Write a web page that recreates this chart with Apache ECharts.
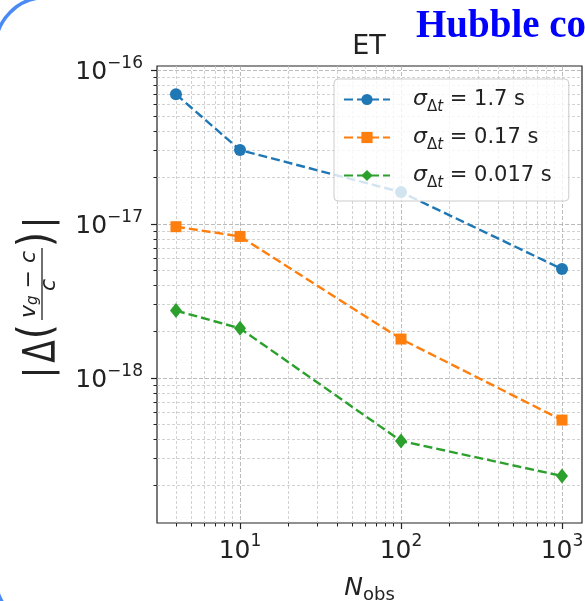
<!DOCTYPE html>
<html><head><meta charset="utf-8">
<script src="https://cdn.jsdelivr.net/npm/echarts@6/dist/echarts.min.js"></script>
<style>html,body{margin:0;padding:0;background:#fff}#c{width:585px;height:601px}</style>
</head><body><div id="c"></div>
<script>
// ---- data ----
const nObs = [4, 10, 100, 1000];
const seriesNames = ['σΔt = 1.7 s', 'σΔt = 0.17 s', 'σΔt = 0.017 s'];
const legendValues = ['1.7 s', '0.17 s', '0.017 s'];
const blueVals = [6.95e-17, 3.02e-17, 1.61e-17, 5.1e-18];
const orangeVals = [9.6e-18, 8.3e-18, 1.79e-18, 5.33e-19];
const greenVals = [2.74e-18, 2.10e-18, 3.9e-19, 2.31e-19];
const xMajorTicks = [10, 100, 1000];
const xTickExps = ['1', '2', '3'];
const yMajorTicks = [1e-18, 1e-17, 1e-16];
const yTickExps = ['−18', '−17', '−16'];
const xMinorTicks = [4, 5, 6, 7, 8, 9, 20, 30, 40, 50, 60, 70, 80, 90, 200, 300, 400, 500, 600, 700, 800, 900];
const yMinorTicks = [2e-19, 3e-19, 4e-19, 5e-19, 6e-19, 7e-19, 8e-19, 9e-19,
                     2e-18, 3e-18, 4e-18, 5e-18, 6e-18, 7e-18, 8e-18, 9e-18,
                     2e-17, 3e-17, 4e-17, 5e-17, 6e-17, 7e-17, 8e-17, 9e-17];
const xRange = [3.05, 1331];
const yRange = [1.144e-19, 1.061e-16];

// ---- styles ----
const F = 'DejaVu Sans';
const ink = '#222222';
const colors = ['#1f77b4', '#ff7f0e', '#2ca02c'];
const symbols = ['circle', 'rect', 'diamond'];
const symbolSizes = [12, 11, [12, 15]];
const allVals = [blueVals, orangeVals, greenVals];

function supFormatter(ticks, exps) {
  return function (value) {
    const i = ticks.findIndex(t => Math.abs(Math.log10(t) - Math.log10(value)) < 1e-6);
    return '{b|10}{s|' + (i >= 0 ? exps[i] : '') + '}';
  };
}
const labelRich = {
  b: { fontSize: 25, lineHeight: 28, fontFamily: F, color: ink },
  s: { fontSize: 17, lineHeight: 17, padding: [0, 0, 18, 0], fontFamily: F, color: ink }
};
const majorGrid = { show: true, lineStyle: { color: '#ababab', type: [4, 2], width: 0.8 } };
const minorGrid = { show: true, lineStyle: { color: '#c6c6c6', type: [3, 2], width: 0.8 } };

const chart = echarts.init(document.getElementById('c'), null, { renderer: 'canvas' });
const option = {
  backgroundColor: '#ffffff',
  animation: false,
  title: {
    text: 'ET', left: 369, top: 33, textAlign: 'center', padding: 0,
    textStyle: { fontSize: 27, fontWeight: 'normal', fontFamily: F, color: ink, lineHeight: 28 }
  },
  grid: {
    left: 157, right: 3, top: 66, bottom: 78,
    outerBoundsMode: 'none', containLabel: false,
    show: true, borderColor: ink, borderWidth: 1.2, backgroundColor: 'transparent'
  },
  xAxis: [
    {
      type: 'log', min: xRange[0], max: xRange[1], position: 'bottom',
      axisLine: { show: false },
      axisTick: { show: true, customValues: xMajorTicks, length: 6, lineStyle: { color: ink, width: 1.2 } },
      axisLabel: { customValues: xMajorTicks, formatter: supFormatter(xMajorTicks, xTickExps), rich: labelRich, margin: 14 },
      splitLine: majorGrid,
      name: '{n|N}{o|obs}', nameLocation: 'middle', nameGap: 50,
      nameTextStyle: {
        rich: {
          n: { fontSize: 25, fontStyle: 'italic', fontFamily: F, color: ink, lineHeight: 28 },
          o: { fontSize: 18, fontFamily: F, color: ink, lineHeight: 18, padding: [13, 0, 0, 0] }
        }
      }
    },
    {
      type: 'log', min: xRange[0], max: xRange[1], position: 'bottom',
      axisLine: { show: false },
      axisTick: { show: true, customValues: xMinorTicks, length: 3.5, lineStyle: { color: ink, width: 1 } },
      axisLabel: { show: false },
      splitLine: minorGrid
    }
  ],
  yAxis: [
    {
      type: 'log', min: yRange[0], max: yRange[1], position: 'left',
      axisLine: { show: false },
      axisTick: { show: true, customValues: yMajorTicks, length: 6, lineStyle: { color: ink, width: 1.2 } },
      axisLabel: { customValues: yMajorTicks, formatter: supFormatter(yMajorTicks, yTickExps), rich: labelRich, margin: 14, padding: [6, 0, 0, 0] },
      splitLine: majorGrid
    },
    {
      type: 'log', min: yRange[0], max: yRange[1], position: 'left',
      axisLine: { show: false },
      axisTick: { show: true, customValues: yMinorTicks, length: 3.5, lineStyle: { color: ink, width: 1 } },
      axisLabel: { show: false },
      splitLine: minorGrid
    }
  ],
  legend: {
    orient: 'vertical', left: 334, top: 79, padding: [5, 17, 10, 9], itemGap: 7,
    itemWidth: 46, itemHeight: 14,
    backgroundColor: 'rgba(255,255,255,0.8)', borderColor: '#cccccc', borderWidth: 1, borderRadius: 4,
    data: seriesNames,
    formatter: function (name) {
      const i = seriesNames.indexOf(name);
      return '{s|σ}{d|Δ}{t|t}{r| = ' + legendValues[i] + '}';
    },
    textStyle: {
      rich: {
        s: { fontSize: 22, fontStyle: 'italic', fontFamily: F, color: ink, lineHeight: 24, padding: [0, 0, 0, 18] },
        d: { fontSize: 15, fontFamily: F, color: ink, lineHeight: 15, padding: [16, 0, 0, 0] },
        t: { fontSize: 15, fontStyle: 'italic', fontFamily: F, color: ink, lineHeight: 15, padding: [16, 0, 0, 0] },
        r: { fontSize: 21, fontFamily: F, color: ink, lineHeight: 24 }
      }
    }
  },
  series: allVals.map((vals, k) => ({
    name: seriesNames[k],
    type: 'line',
    xAxisIndex: 0, yAxisIndex: 0,
    data: nObs.map((x, i) => [x, vals[i]]),
    symbol: symbols[k],
    symbolSize: symbolSizes[k],
    itemStyle: { color: colors[k] },
    lineStyle: { color: colors[k], width: 2.4, type: [9, 4] },
    z: 3
  })),
  graphic: [
    {
      type: 'arc', silent: true,
      shape: { cx: 45.6, cy: 47.5, r: 50, startAngle: Math.PI, endAngle: Math.PI * 1.5, clockwise: true },
      style: { fill: 'none', stroke: '#4a8af4', lineWidth: 3.5 }
    },
    {
      type: 'arc', silent: true,
      shape: { cx: 45.6, cy: 577, r: 50, startAngle: Math.PI * 0.5, endAngle: Math.PI, clockwise: true },
      style: { fill: 'none', stroke: '#4a8af4', lineWidth: 3.5 }
    },
    {
      type: 'text', x: 416, y: 26.5, silent: true,
      style: { text: 'Hubble co', fontSize: 39, fontWeight: 'bold', fontFamily: 'Liberation Serif', fill: '#0000ff', align: 'left', verticalAlign: 'middle' }
    },
    {
      type: 'group', x: 42, y: 292, rotation: Math.PI / 2, silent: true,
      children: [
        { type: 'text', x: -80.5, y: -0.5, style: { text: '|', fontSize: 37, fontFamily: F, fill: ink, align: 'center', verticalAlign: 'middle' } },
        { type: 'text', x: -59.5, y: 1.5, scaleX: 0.75, style: { text: 'Δ', fontSize: 44, fontFamily: F, fill: ink, align: 'center', verticalAlign: 'middle' } },
        { type: 'text', x: -39.5, y: -3.5, scaleX: 0.85, style: { text: '(', fontSize: 46, fontFamily: F, fill: ink, align: 'center', verticalAlign: 'middle' } },
        { type: 'text', x: 7.5, y: -12.5, style: {
            text: '{i|v}{g|g}{m| − }{i|c}', align: 'center', verticalAlign: 'middle',
            rich: {
              i: { fontSize: 22, fontStyle: 'italic', fontFamily: F, fill: ink },
              g: { fontSize: 15, fontStyle: 'italic', fontFamily: F, fill: ink, padding: [8, 0, 0, 0] },
              m: { fontSize: 22, fontFamily: F, fill: ink }
            } } },
        { type: 'line', shape: { x1: -28, y1: 0, x2: 44, y2: 0 }, style: { stroke: ink, lineWidth: 1.3 } },
        { type: 'text', x: 7, y: 7.5, style: { text: 'c', fontSize: 22, fontStyle: 'italic', fontFamily: F, fill: ink, align: 'center', verticalAlign: 'middle' } },
        { type: 'text', x: 52.5, y: -3.5, scaleX: 0.85, style: { text: ')', fontSize: 46, fontFamily: F, fill: ink, align: 'center', verticalAlign: 'middle' } },
        { type: 'text', x: 69.5, y: -0.5, style: { text: '|', fontSize: 37, fontFamily: F, fill: ink, align: 'center', verticalAlign: 'middle' } }
      ]
    }
  ]
};
chart.setOption(option);
</script>
</body></html>
